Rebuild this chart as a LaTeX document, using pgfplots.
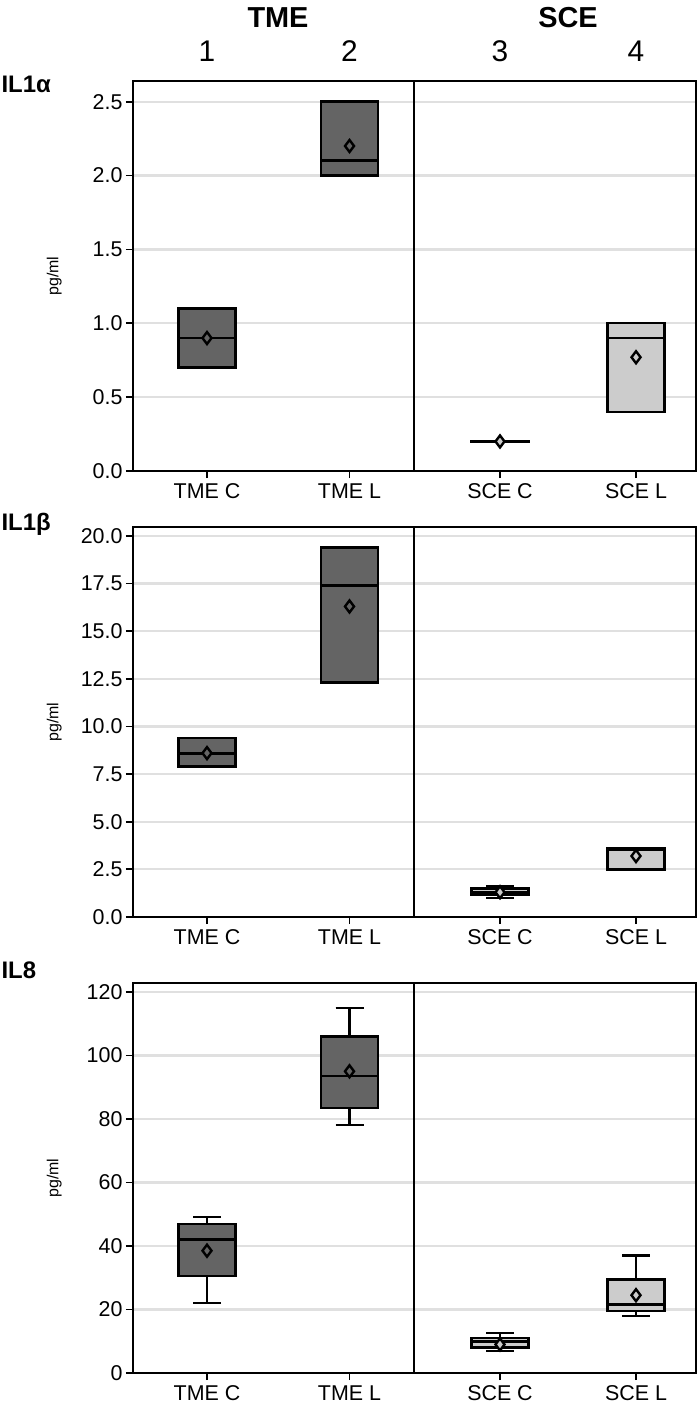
\documentclass[border=0pt]{standalone}
\usepackage{fontspec}
\setmainfont{Liberation Sans}
\usepackage{pgfplots}
\pgfplotsset{compat=1.18}
\usepgfplotslibrary{statistics}

\definecolor{dk}{HTML}{646464}
\definecolor{lt}{HTML}{CCCCCC}
\definecolor{gridc}{HTML}{E0E0E0}

\pgfplotsset{
  panel/.style={
    scale only axis, width=563bp, height=390bp,
    xmin=133, xmax=696,
    xtick={207,349.5,500,636},
    xticklabels={TME C, TME L, SCE C, SCE L},
    ymin=0,
    tick align=outside, tick pos=left,
    major tick length=7bp,
    ymajorgrids, grid style={gridc, line width=2.2bp},
    axis line style={line width=1.8bp},
    every tick/.style={black, line width=1.8bp},
    tick label style={font=\fontsize{21.5}{24}\selectfont},
    xticklabel style={yshift=-2bp},
    ylabel={pg/ml},
    every axis y label/.style={at={(axis description cs:-0.14,0.5)}, rotate=90, anchor=center, font=\fontsize{16}{18}\selectfont},
    /pgf/number format/assume math mode=true,
    boxplot/draw direction=y,
    boxplot/box extend=57, boxplot/whisker extend=28,
  },
  bx/.style={line width=2.4bp, draw=black,
    /pgfplots/boxplot/every box/.style={line width=2.4bp},
    /pgfplots/boxplot/every whisker/.style={line width=2.2bp},
    /pgfplots/boxplot/every median/.style={line width=2.8bp}},
  mn/.style={only marks, black, mark=diamond*, mark size=6bp,
    mark options={draw=black, line width=2.4bp, fill=#1}},
}

\begin{document}
\begin{tikzpicture}
\useasboundingbox (0bp,0bp) rectangle (698bp,-1404bp);

\node[font=\bfseries\fontsize{29}{32}\selectfont] at (278bp,-18bp) {TME};
\node[font=\bfseries\fontsize{29}{32}\selectfont] at (568bp,-18bp) {SCE};
\node[font=\fontsize{30}{32}\selectfont] at (207bp,-51bp) {1};
\node[font=\fontsize{30}{32}\selectfont] at (349.5bp,-51bp) {2};
\node[font=\fontsize{30}{32}\selectfont] at (500bp,-51bp) {3};
\node[font=\fontsize{30}{32}\selectfont] at (636bp,-51bp) {4};

\node[font=\bfseries\fontsize{24}{26}\selectfont, anchor=west] at (-2bp,-84bp) {IL1α};
\node[font=\bfseries\fontsize{24}{26}\selectfont, anchor=west] at (-2bp,-524bp) {IL1β};
\node[font=\bfseries\fontsize{24}{26}\selectfont, anchor=west] at (-2bp,-970bp) {IL8};

% Panel 1
\begin{axis}[panel, at={(133bp,-471bp)}, anchor=south west,
  ymax=2.64, ytick={0,0.5,...,2.5},
  yticklabel style={/pgf/number format/.cd, fixed, fixed zerofill, precision=1}]
\addplot[bx, fill=dk, boxplot prepared={draw position=207, lower whisker=0.7, lower quartile=0.7, median=0.9, upper quartile=1.1, upper whisker=1.1}] coordinates {};
\addplot[bx, fill=dk, boxplot prepared={draw position=349.5, lower whisker=2.0, lower quartile=2.0, median=2.1, upper quartile=2.5, upper whisker=2.5}] coordinates {};
\addplot[bx, fill=lt, boxplot prepared={draw position=500, lower whisker=0.199, lower quartile=0.199, median=0.2, upper quartile=0.201, upper whisker=0.201}] coordinates {};
\addplot[bx, fill=lt, boxplot prepared={draw position=636, lower whisker=0.4, lower quartile=0.4, median=0.9, upper quartile=1.0, upper whisker=1.0}] coordinates {};
\addplot[mn=dk] coordinates {(207,0.9) (349.5,2.2)};
\addplot[mn=lt] coordinates {(500,0.2) (636,0.77)};
\draw[line width=1.8bp] (axis cs:414,0) -- (axis cs:414,2.64);
\end{axis}

% Panel 2
\begin{axis}[panel, at={(133bp,-917bp)}, anchor=south west,
  ymax=20.47, ytick={0,2.5,...,20},
  yticklabel style={/pgf/number format/.cd, fixed, fixed zerofill, precision=1}]
\addplot[bx, fill=dk, boxplot prepared={draw position=207, lower whisker=7.9, lower quartile=7.9, median=8.6, upper quartile=9.4, upper whisker=9.4}] coordinates {};
\addplot[bx, fill=dk, boxplot prepared={draw position=349.5, lower whisker=12.3, lower quartile=12.3, median=17.4, upper quartile=19.4, upper whisker=19.4}] coordinates {};
\addplot[bx, fill=lt, boxplot prepared={draw position=500, lower whisker=1.0, lower quartile=1.15, median=1.3, upper quartile=1.5, upper whisker=1.6}] coordinates {};
\addplot[bx, fill=lt, boxplot prepared={draw position=636, lower whisker=2.5, lower quartile=2.5, median=3.55, upper quartile=3.6, upper whisker=3.6}] coordinates {};
\addplot[mn=dk] coordinates {(207,8.6) (349.5,16.3)};
\addplot[mn=lt] coordinates {(500,1.3) (636,3.2)};
\draw[line width=1.8bp] (axis cs:414,0) -- (axis cs:414,20.47);
\end{axis}

% Panel 3
\begin{axis}[panel, at={(133bp,-1373bp)}, anchor=south west,
  ymax=122.8, ytick={0,20,...,120}]
\addplot[bx, fill=dk, boxplot prepared={draw position=207, lower whisker=22, lower quartile=30.5, median=42, upper quartile=47, upper whisker=49}] coordinates {};
\addplot[bx, fill=dk, boxplot prepared={draw position=349.5, lower whisker=78, lower quartile=83.5, median=93.5, upper quartile=106, upper whisker=115}] coordinates {};
\addplot[bx, fill=lt, boxplot prepared={draw position=500, lower whisker=7, lower quartile=8, median=9.8, upper quartile=11, upper whisker=12.5}] coordinates {};
\addplot[bx, fill=lt, boxplot prepared={draw position=636, lower whisker=18, lower quartile=19.5, median=21.5, upper quartile=29.5, upper whisker=37}] coordinates {};
\addplot[mn=dk] coordinates {(207,38.5) (349.5,95)};
\addplot[mn=lt] coordinates {(500,9) (636,24.5)};
\draw[line width=1.4bp] (axis cs:414,0) -- (axis cs:414,122.8);
\end{axis}
\end{tikzpicture}
\end{document}
